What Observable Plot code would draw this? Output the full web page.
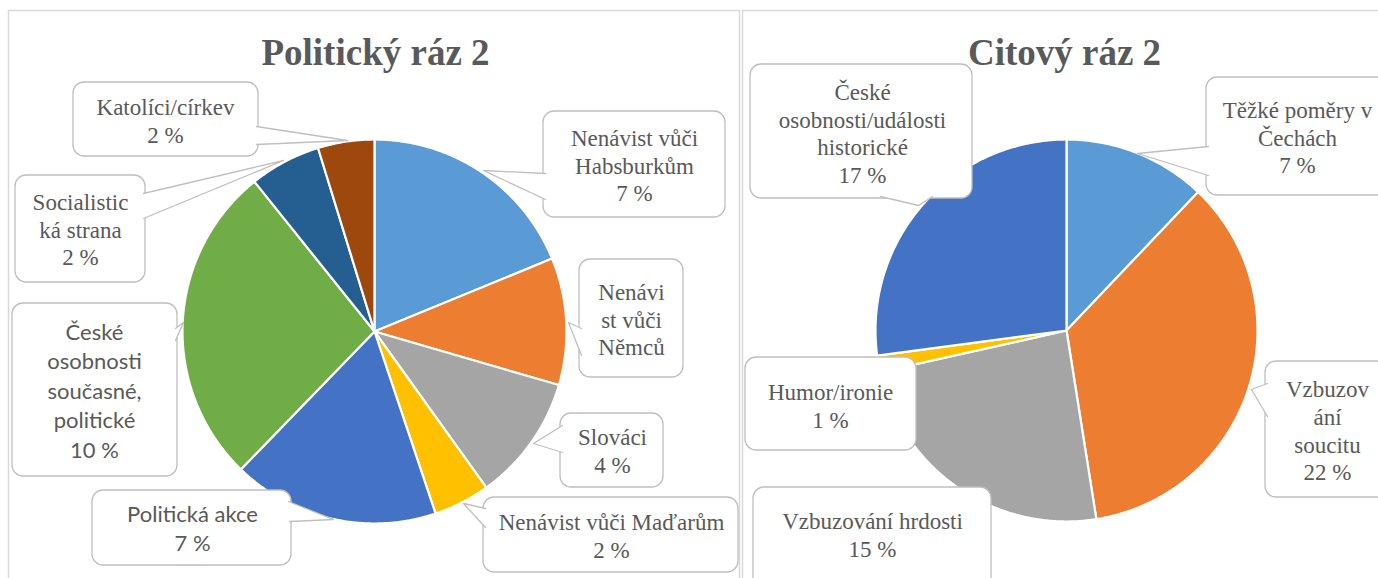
<!DOCTYPE html>
<html>
<head>
<meta charset="utf-8">
<script src="https://cdn.jsdelivr.net/npm/d3@7"></script>
<script src="https://cdn.jsdelivr.net/npm/@observablehq/plot@0.6"></script>
<style>
  html, body { margin: 0; padding: 0; background: #ffffff; overflow: hidden; }
</style>
</head>
<body>
<div id="chart"></div>
<script>
// ---------- DATA ----------
const leftTitle = "Politický ráz 2";
const rightTitle = "Citový ráz 2";

const leftCategories = [
  "Nenávist vůči Habsburkům", "Nenávist vůči Němcům", "Slováci", "Nenávist vůči Maďarům",
  "Politická akce", "České osobnosti současné, politické", "Socialistická strana", "Katolíci/církev"
];
// slice shares
const leftShares = [18.8, 10.7, 10.6, 4.75, 17.4, 27.0, 6.0, 4.75];
// percentages printed in the labels ("" = not shown)
const leftPercents = ["7 %", "", "4 %", "2 %", "7 %", "10 %", "2 %", "2 %"];
const leftColors = ["#5B9BD5", "#ED7D31", "#A5A5A5", "#FFC000", "#4472C4", "#70AD47", "#255E91", "#9E480E"];

const rightCategories = [
  "Těžké poměry v Čechách", "Vzbuzování soucitu", "Vzbuzování hrdosti", "Humor/ironie",
  "České osobnosti/události historické"
];
const rightShares = [12.1, 35.4, 24.0, 1.4, 27.1];
const rightPercents = ["7 %", "22 %", "15 %", "1 %", "17 %"];
const rightColors = ["#5B9BD5", "#ED7D31", "#A5A5A5", "#FFC000", "#4472C4"];

// ---------- LAYOUT ----------
const W = 1378, H = 578;
const textColor = "#595959";
const boxStroke = "#bfbfbf";
const serifFont = "Liberation Serif";
const sansFont = "Lato";

const pieGeom = {
  L: {cx: 374, cy: 331, r: 192},
  R: {cx: 1066, cy: 330, r: 191}
};

const leftLayout = [
  {wrap: "Nenávist vůči\nHabsburkům", box: [543, 111, 725, 217], tx: 634, ty: 166, ptr: [[545, 173], [483, 170], [545, 199]], sans: false},
  {wrap: "Nenávi\nst vůči\nNěmců", box: [579, 259, 683, 377], tx: 631, ty: 320, ptr: [[581, 328], [568, 322], [581, 355]], sans: false},
  {wrap: "Slováci", box: [560, 413, 663, 487], tx: 612, ty: 451, ptr: [[562, 425], [533, 443], [562, 452]], sans: false},
  {wrap: "Nenávist vůči Maďarům", box: [483, 497, 738, 572], tx: 611, ty: 536, ptr: [[485, 508], [463, 503], [485, 527]], sans: false},
  {wrap: "Politická akce", box: [92, 490, 291, 565], tx: 192, ty: 529, ptr: [[288, 501], [333, 519], [289, 521]], sans: true},
  {wrap: "České\nosobnosti\nsoučasné,\npolitické", box: [12, 303, 177, 476], tx: 94, ty: 391, ptr: [[175, 328], [183, 322], [175, 340]], sans: true},
  {wrap: "Socialistic\nká strana", box: [15, 175, 145, 282], tx: 80, ty: 230, ptr: [[143, 193], [283, 160], [143, 218]], sans: false},
  {wrap: "Katolíci/církev", box: [73, 82, 258, 156], tx: 165, ty: 121, ptr: [[256, 126], [347, 140], [256, 144]], sans: false}
];
const rightLayout = [
  {wrap: "Těžké poměry v\nČechách", box: [1206, 77, 1392, 195], tx: 1297, ty: 138, ptr: [[1208, 146], [1137, 153], [1208, 175]], sans: false},
  {wrap: "Vzbuzov\nání\nsoucitu", box: [1265, 361, 1392, 497], tx: 1327, ty: 431, ptr: [[1267, 383], [1251, 389], [1267, 416]], sans: false},
  {wrap: "Vzbuzování hrdosti", box: [753, 487, 991, 600], tx: 872, ty: 535, ptr: null, sans: false},
  {wrap: "Humor/ironie", box: [745, 357, 916, 450], tx: 830, ty: 406, ptr: null, sans: false},
  {wrap: "České\nosobnosti/události\nhistorické", box: [750, 64, 972, 198], tx: 862, ty: 133.5, ptr: [[880, 196], [918, 205], [932, 196]], sans: false}
];

// ---------- BUILD ----------
function slicePoints(id, shares, g) {
  const arcs = d3.pie().sort(null).value(d => d)(shares);
  const pts = [];
  arcs.forEach((a, i) => {
    const key = id + i;
    pts.push({key, x: g.cx, y: g.cy});
    const n = Math.max(2, Math.ceil((a.endAngle - a.startAngle) / (Math.PI / 360)));
    for (let k = 0; k <= n; k++) {
      const t = a.startAngle + (a.endAngle - a.startAngle) * k / n;
      pts.push({key, x: g.cx + g.r * Math.sin(t), y: g.cy - g.r * Math.cos(t)});
    }
    pts.push({key, x: g.cx, y: g.cy});
  });
  return pts;
}

const slices = [
  ...slicePoints("L", leftShares, pieGeom.L),
  ...slicePoints("R", rightShares, pieGeom.R)
];
const colorDomain = [...leftShares.map((_, i) => "L" + i), ...rightShares.map((_, i) => "R" + i)];
const colorRange = [...leftColors, ...rightColors];

const allLayout = [...leftLayout, ...rightLayout];
const allPercents = [...leftPercents, ...rightPercents];
const boxes = allLayout.map(l => ({x1: l.box[0], y1: l.box[1], x2: l.box[2], y2: l.box[3]}));

// one text mark per label, one datum per line (no multi-line tspans)
const serifSize = 23, serifLead = 27.6, sansSize = 22, sansLead = 29.5;
const labelMarks = allLayout.map((l, i) => {
  const lines = (l.wrap + (allPercents[i] ? "\n" + allPercents[i] : "")).split("\n");
  const lead = l.sans ? sansLead : serifLead;
  const rows = lines.map((s, k) => ({x: l.tx, y: l.ty + (k - (lines.length - 1) / 2) * lead, t: s}));
  return Plot.text(rows, {
    x: "x", y: "y", text: "t",
    fontFamily: l.sans ? sansFont : serifFont,
    fontSize: l.sans ? sansSize : serifSize,
    fill: textColor, textAnchor: "middle"
  });
});

const pointerPts = [];
allLayout.forEach((l, i) => {
  if (!l.ptr) return;
  l.ptr.forEach(p => pointerPts.push({id: i, x: p[0], y: p[1]}));
});

const panels = [
  {x1: 8.5, y1: 10.5, x2: 739.5, y2: 600},
  {x1: 742.5, y1: 10.5, x2: 1400, y2: 600}
];
const titles = [
  {t: leftTitle, x: 375, y: 53},
  {t: rightTitle, x: 1064, y: 53}
];

const chart = Plot.plot({
  width: W,
  height: H,
  margin: 0,
  x: {domain: [0, W], range: [0, W], axis: null},
  y: {domain: [0, H], range: [0, H], axis: null},
  color: {type: "ordinal", domain: colorDomain, range: colorRange},
  marks: [
    Plot.rect(panels, {x1: "x1", y1: "y1", x2: "x2", y2: "y2", fill: "white", stroke: "#d9d9d9", strokeWidth: 1.5}),
    Plot.line(slices, {x: "x", y: "y", z: "key", fill: "key", stroke: "white", strokeWidth: 2.2, strokeLinejoin: "round", curve: "linear"}),
    Plot.rect(boxes, {x1: "x1", y1: "y1", x2: "x2", y2: "y2", rx: 11, ry: 11, fill: "white", stroke: boxStroke, strokeWidth: 1.3}),
    Plot.line(pointerPts, {x: "x", y: "y", z: "id", fill: "white", stroke: boxStroke, strokeWidth: 1.3, strokeLinejoin: "round", curve: "linear"}),
    ...labelMarks,
    Plot.text(titles, {x: "x", y: "y", text: "t", fontFamily: serifFont, fontSize: 37, fontWeight: "bold", fill: textColor, textAnchor: "middle"})
  ]
});
document.getElementById("chart").appendChild(chart);
</script>
</body>
</html>
